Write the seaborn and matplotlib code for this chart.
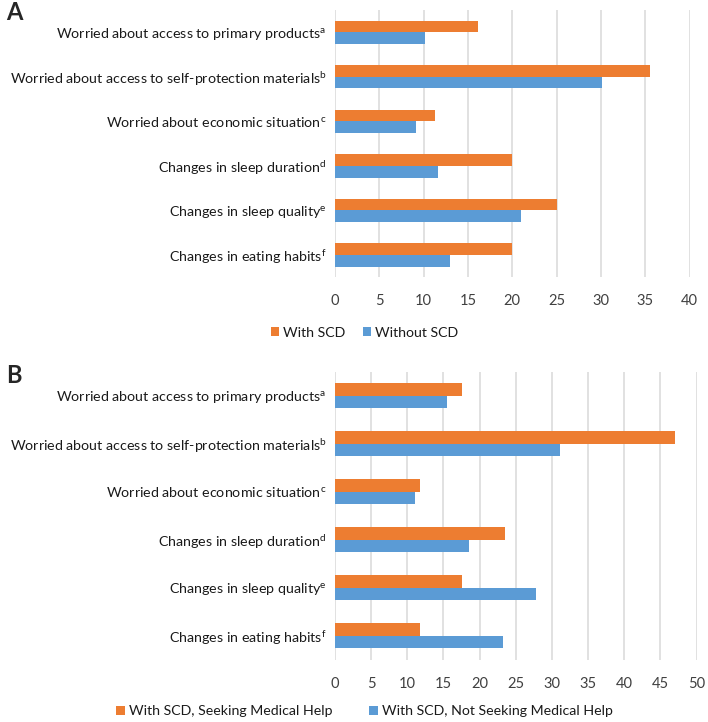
import numpy as np
import pandas as pd
import matplotlib
matplotlib.use('Agg')
import matplotlib.pyplot as plt
import seaborn as sns

items = ['Worried about access to primary products$^\\mathregular{a}$',
         'Worried about access to self-protection materials$^\\mathregular{b}$',
         'Worried about economic situation$^\\mathregular{c}$',
         'Changes in sleep duration$^\\mathregular{d}$',
         'Changes in sleep quality$^\\mathregular{e}$',
         'Changes in eating habits$^\\mathregular{f}$']

# panel A
groups_a = ['With SCD', 'Without SCD']
with_scd = [16.1, 35.5, 11.3, 20.0, 25.0, 20.0]
without_scd = [10.2, 30.1, 9.1, 11.6, 21.0, 13.0]

# panel B
groups_b = ['With SCD, Seeking Medical Help', 'With SCD, Not Seeking Medical Help']
seeking = [17.6, 47.0, 11.8, 23.5, 17.6, 11.8]
not_seeking = [15.5, 31.1, 11.1, 18.6, 27.8, 23.3]

orange = '#ED7D31'
blue = '#5B9BD5'

sns.set_theme(style='white')
plt.rcParams['font.family'] = ['Lato', 'DejaVu Sans']
plt.rcParams['mathtext.fontset'] = 'custom'
plt.rcParams['mathtext.rm'] = 'Lato'

def long_df(a, b, names):
    return pd.DataFrame({
        'item': items * 2,
        'value': list(a) + list(b),
        'group': [names[0]] * len(items) + [names[1]] * len(items),
    })

fig = plt.figure(figsize=(7.08, 7.22), dpi=100)

def panel(rect, df, names, xmax, letter, letter_y, leg_y, colspace):
    ax = fig.add_axes(rect)
    sns.barplot(data=df, y='item', x='value', hue='group', hue_order=names,
                orient='h', palette=[orange, blue], saturation=1,
                width=0.52, linewidth=0, ax=ax)
    ax.set_xlim(0, xmax)
    ax.set_xticks(np.arange(0, xmax + 1, 5))
    ax.grid(axis='x', color='#D9D9D9', lw=1.1)
    ax.set_axisbelow(True)
    for s in ax.spines.values():
        s.set_visible(False)
    ax.set_xlabel('')
    ax.set_ylabel('')
    ax.tick_params(axis='x', length=0, pad=12, labelsize=10.5, labelcolor='#404040')
    ax.tick_params(axis='y', length=0, pad=6, labelsize=10.3, labelcolor='#1a1a1a')
    h, l = ax.get_legend_handles_labels()
    ax.get_legend().remove()
    fig.legend(h, l, loc='center', bbox_to_anchor=(0.515, leg_y), ncol=2, frameon=False,
               fontsize=10.2, handlelength=0.6, handleheight=0.6, handletextpad=0.3,
               columnspacing=colspace, labelcolor='#1a1a1a')
    fig.text(0.008, letter_y, letter, fontsize=17, fontweight='bold', va='center')
    return ax

panel([0.473, 0.616, 0.501, 0.370], long_df(with_scd, without_scd, groups_a), groups_a,
      40, 'A', 0.983, 0.539, 1.2)
panel([0.473, 0.086, 0.511, 0.399], long_df(seeking, not_seeking, groups_b), groups_b,
      50, 'B', 0.480, 0.015, 2.6)

fig.savefig('out.png', dpi=100)
